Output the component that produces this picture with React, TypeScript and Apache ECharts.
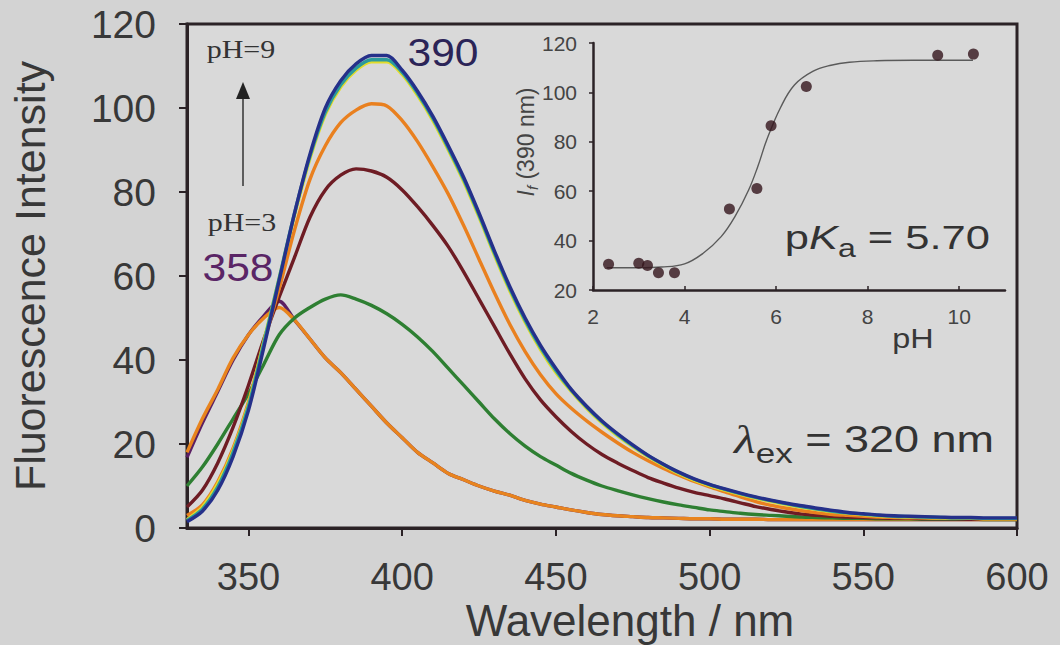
import React, { useEffect, useRef } from "react";
import * as echarts from "echarts";

const wavelengths = [
  330, 335, 340, 345, 350, 355, 360, 365, 370, 375, 380, 385, 390, 395, 400, 405, 410, 415, 420, 425,
  430, 435, 440, 445, 450, 455, 460, 465, 470, 475, 480, 485, 490, 495, 500, 505, 510, 515, 520, 525,
  530, 535, 540, 545, 550, 555, 560, 565, 570, 575, 580, 585, 590, 595, 600,
];

const purpleLow = [
  16.8, 25, 32.5, 40, 46, 50.5, 54, 49.5, 45, 40.5, 37, 33, 29, 25, 21.5, 18, 15.5, 13, 11.5, 10,
  8.8, 7.8, 6.6, 5.7, 5, 4.3, 3.7, 3.2, 2.9, 2.7, 2.5, 2.4, 2.3, 2.2, 2.2, 2.1, 2.1, 2.1, 2, 2,
  2, 2, 2, 2, 2, 2, 2, 2, 2, 2, 2, 2, 2, 2, 2,
];
const orangeLow = [
  18, 26, 33, 40.5, 46, 50, 52.5, 49.5, 45, 40.5, 37, 33, 29, 25, 21.5, 18, 15.5, 13, 11.5, 10,
  8.8, 7.8, 6.6, 5.7, 5, 4.3, 3.7, 3.2, 2.9, 2.7, 2.5, 2.4, 2.3, 2.2, 2.2, 2.1, 2.1, 2.1, 2, 2,
  2, 2, 2, 2, 2, 2, 2, 2, 2, 2, 2, 2, 2, 2, 2,
];
const green = [
  10, 14.5, 20, 26, 32, 39, 46, 50, 52.5, 54.5, 55.5, 54.5, 53, 51, 48.5, 45.5, 42, 38, 34, 30,
  26, 22.5, 19.5, 17, 15, 13, 11.4, 10, 8.9, 7.9, 7, 6.2, 5.5, 4.9, 4.3, 3.9, 3.5, 3.2, 3, 2.8,
  2.6, 2.5, 2.4, 2.3, 2.3, 2.2, 2.2, 2.2, 2.1, 2.1, 2.1, 2.1, 2, 2, 2,
];
const darkRed = [
  5, 9, 15.5, 24, 34, 45, 55, 64.5, 74, 80.5, 84, 85.5, 85, 83.5, 80.5, 76.5, 72, 67, 61, 54.5,
  48, 41.5, 35.5, 30.5, 26.5, 23, 20, 17.5, 15.5, 13.7, 12, 10.7, 9.5, 8.5, 7.7, 6.9, 6, 5.1, 4.4, 3.8,
  3.3, 3, 2.8, 2.6, 2.5, 2.4, 2.3, 2.3, 2.2, 2.2, 2.2, 2.1, 2.1, 2.1, 2.1,
];
const orangeHigh = [
  3, 5.5, 11, 19, 30, 44, 57, 71, 83, 91, 96.5, 99.5, 101, 100.5, 97, 92, 86, 79.5, 72, 64,
  56, 48.5, 42, 36.5, 32, 28.5, 25.5, 22.8, 20.3, 18, 16, 14.2, 12.6, 11.1, 9.8, 8.6, 7.4, 6.3, 5.4, 4.7,
  4.1, 3.6, 3.2, 3, 2.8, 2.6, 2.5, 2.4, 2.4, 2.3, 2.3, 2.3, 2.2, 2.2, 2.2,
];
const yellow = [
  2, 5, 10.5, 18.5, 29.5, 44.5, 59.5, 74.5, 88, 98.5, 105, 109, 111, 111, 108, 103, 97, 90, 82.5, 74,
  65, 56.5, 49, 42.5, 37, 32.5, 28.5, 25, 22, 19.4, 17, 14.9, 13, 11.4, 10.1, 9, 8, 7.1, 6.3, 5.6,
  4.9, 4.4, 3.9, 3.5, 3.2, 2.9, 2.7, 2.6, 2.5, 2.4, 2.3, 2.3, 2.2, 2.2, 2.2,
];
const teal = [
  1.8, 4.5, 9.8, 18, 29, 44, 59.5, 75, 88.5, 99, 105.5, 109.5, 111.5, 111.5, 108.5, 103.5, 97.5, 90.5, 83, 74.5,
  65.5, 57, 49.5, 43, 37.5, 32.8, 28.8, 25.3, 22.3, 19.6, 17.2, 15.1, 13.2, 11.6, 10.3, 9.2, 8.2, 7.3, 6.5, 5.8,
  5.1, 4.5, 4, 3.6, 3.3, 3, 2.8, 2.7, 2.6, 2.5, 2.4, 2.4, 2.3, 2.3, 2.3,
];
const blue = [
  1.5, 4, 9, 17, 28, 43, 59, 75, 89, 100, 106.5, 110.5, 112.5, 112.5, 109, 104, 98, 91, 83.5, 75,
  66, 57.5, 50, 43.5, 38, 33, 29, 25.5, 22.5, 19.8, 17.3, 15.2, 13.3, 11.7, 10.4, 9.3, 8.3, 7.4, 6.6, 5.9,
  5.3, 4.7, 4.2, 3.7, 3.4, 3.1, 2.9, 2.8, 2.7, 2.6, 2.5, 2.5, 2.4, 2.4, 2.4,
];

const spectraNames = ["pH 3 (a)", "pH 3 (b)", "pH 5", "pH 5.9", "pH 6.7", "pH 8 (a)", "pH 8 (b)", "pH 9"];
const spectraValues = [purpleLow, orangeLow, green, darkRed, orangeHigh, yellow, teal, blue];
const spectraColors = ["#5b1f63", "#e8841e", "#2e7f32", "#6e1c24", "#e9801f", "#e2dc2a", "#2b9a9c", "#25308a"];

const xTickLabels = [350, 400, 450, 500, 550, 600];

// inset: I_f (390 nm) versus pH
const insetPH = [2.34, 3.0, 3.19, 3.43, 3.78, 4.98, 5.58, 5.89, 6.66, 9.53, 10.31];
const insetIntensity = [30.4, 30.8, 29.9, 27.0, 27.0, 52.8, 61.1, 86.5, 102.4, 115, 115.5];
const fitPH = [2.3, 3.0, 3.5, 4.0, 4.4, 4.8, 5.1, 5.4, 5.6, 5.8, 6.1, 6.4, 6.8, 7.2, 7.6, 8.2, 9.0, 10.3];
const fitIntensity = [29, 29, 29.3, 30.6, 34.8, 41.6, 49.7, 60.5, 70, 81, 94, 103, 108.5, 111, 112.2, 112.8, 113, 113];

const SANS = "'Liberation Sans', Arial, sans-serif";
const SERIF = "'Liberation Serif', 'Times New Roman', serif";
const INK = "#2b2226";
const TXT = "#383838";

export default function App() {
  const ref = useRef<HTMLDivElement>(null);
  useEffect(() => {
    const chart = echarts.init(ref.current!, null, { renderer: "svg" });
    const pairs = (xs: number[], ys: number[]) => xs.map((x, i) => [x, ys[i]]);
    const spectra = spectraValues.map((vals, k) => ({
      name: spectraNames[k],
      type: "line",
      xAxisIndex: 0,
      yAxisIndex: 0,
      data: pairs(wavelengths, vals),
      showSymbol: false,
      smooth: 0.3,
      lineStyle: { width: 3.4, color: spectraColors[k] },
      itemStyle: { color: spectraColors[k] },
      z: 2 + k,
    }));
    chart.setOption({
      animation: false,
      backgroundColor: "#d3d3d3",
      textStyle: { fontFamily: SANS },
      grid: [
        { left: 187, top: 24, width: 830, height: 504, show: true, borderColor: INK, borderWidth: 3, backgroundColor: "#d9d9d9", containLabel: false, outerBoundsMode: "none" },
        { left: 593, top: 43, width: 412, height: 247, show: false, containLabel: false, outerBoundsMode: "none" },
      ],
      xAxis: [
        {
          type: "value", gridIndex: 0, min: 330, max: 600,
          axisLine: { show: true, lineStyle: { color: INK, width: 3 } },
          axisTick: { show: true, customValues: xTickLabels, length: 8, lineStyle: { color: INK, width: 2 } },
          axisLabel: { customValues: xTickLabels, fontSize: 38, color: TXT, margin: 30, fontFamily: SANS },
          splitLine: { show: false },
        },
        {
          type: "value", gridIndex: 1, min: 2, max: 11, interval: 2,
          axisLine: { show: true, lineStyle: { color: INK, width: 2.5 } },
          axisTick: { show: true, inside: true, length: 4, lineStyle: { color: INK, width: 1.5 } },
          axisLabel: { fontSize: 21, color: "#444", margin: 16, showMaxLabel: false, fontFamily: SANS },
          splitLine: { show: false },
        },
      ],
      yAxis: [
        {
          type: "value", gridIndex: 0, min: 0, max: 120, interval: 20,
          axisLine: { show: true, lineStyle: { color: INK, width: 3 } },
          axisTick: { show: true, length: 8, lineStyle: { color: INK, width: 2 } },
          axisLabel: { fontSize: 39, color: TXT, margin: 31, fontFamily: SANS },
          splitLine: { show: false },
          name: "Fluorescence Intensity", nameLocation: "middle", nameGap: 136,
          nameTextStyle: { fontSize: 43, color: TXT, fontFamily: SANS },
        },
        {
          type: "value", gridIndex: 1, min: 20, max: 120, interval: 20,
          axisLine: { show: true, lineStyle: { color: INK, width: 2.5 } },
          axisTick: { show: true, length: 4, lineStyle: { color: INK, width: 1.5 } },
          axisLabel: { fontSize: 21, color: "#444", margin: 16, fontFamily: SANS },
          splitLine: { show: false },
        },
      ],
      series: [
        ...spectra,
        {
          name: "fit", type: "line", xAxisIndex: 1, yAxisIndex: 1,
          data: pairs(fitPH, fitIntensity), showSymbol: false, smooth: 0.4,
          lineStyle: { width: 1.4, color: "#5a5a5a" }, z: 20,
        },
        {
          name: "If(390)", type: "scatter", xAxisIndex: 1, yAxisIndex: 1,
          data: pairs(insetPH, insetIntensity), symbolSize: 11,
          itemStyle: { color: "#33141c" }, z: 21,
        },
      ],
      graphic: [
        { type: "text", x: 630, y: 620, z: 50, style: { text: "Wavelength / nm", fontSize: 44, fontFamily: SANS, fill: TXT, textAlign: "center", textVerticalAlign: "middle" } },
        { type: "text", x: 241, y: 49, scaleX: 1.2, z: 50, style: { text: "pH=9", fontSize: 25, fontFamily: SERIF, fill: "#333", textAlign: "center", textVerticalAlign: "middle" } },
        { type: "line", z: 50, shape: { x1: 243, y1: 186, x2: 243, y2: 96 }, style: { stroke: "#333", lineWidth: 1.5 } },
        { type: "polygon", z: 50, shape: { points: [[236, 99], [250, 99], [243, 82]] }, style: { fill: "#222" } },
        { type: "text", x: 242, y: 222, scaleX: 1.2, z: 50, style: { text: "pH=3", fontSize: 25, fontFamily: SERIF, fill: "#333", textAlign: "center", textVerticalAlign: "middle" } },
        { type: "text", x: 238, y: 268, scaleX: 1.12, z: 50, style: { text: "358", fontSize: 38, fontFamily: SANS, fill: "#5a2566", textAlign: "center", textVerticalAlign: "middle" } },
        { type: "text", x: 443, y: 53, scaleX: 1.12, z: 50, style: { text: "390", fontSize: 38, fontFamily: SANS, fill: "#2b2457", textAlign: "center", textVerticalAlign: "middle" } },
        {
          type: "text", x: 994, y: 440, scaleX: 1.25, z: 50,
          style: {
            text: "{l|λ}{s|ex}{n| = 320 nm}", textAlign: "right", textVerticalAlign: "middle", fill: "#333",
            rich: {
              l: { fontSize: 40, fontFamily: SERIF, fontStyle: "italic", lineHeight: 54, fill: "#333" },
              s: { fontSize: 28, fontFamily: SANS, lineHeight: 28, padding: [26, 0, 0, 0], fill: "#333" },
              n: { fontSize: 36, fontFamily: SANS, lineHeight: 54, fill: "#333" },
            },
          },
        },
        {
          type: "text", x: 990, y: 237, scaleX: 1.28, z: 50,
          style: {
            text: "{n|p}{k|K}{s|a}{n| = 5.70}", textAlign: "right", textVerticalAlign: "middle", fill: "#333",
            rich: {
              n: { fontSize: 34, fontFamily: SANS, lineHeight: 48, fill: "#333" },
              k: { fontSize: 34, fontFamily: SANS, fontStyle: "italic", lineHeight: 48, fill: "#333" },
              s: { fontSize: 25, fontFamily: SANS, lineHeight: 25, padding: [23, 0, 0, 0], fill: "#333" },
            },
          },
        },
        {
          type: "text", x: 526, y: 142, rotation: Math.PI / 2, z: 50,
          style: {
            text: "{i|I}{f|f}{n| (390 nm)}", textAlign: "center", textVerticalAlign: "middle", fill: "#444",
            rich: {
              i: { fontSize: 23, fontFamily: SANS, fontStyle: "italic", lineHeight: 28, fill: "#444" },
              f: { fontSize: 15, fontFamily: SANS, fontStyle: "italic", lineHeight: 15, padding: [13, 0, 0, 0], fill: "#444" },
              n: { fontSize: 23, fontFamily: SANS, lineHeight: 28, fill: "#444" },
            },
          },
        },
        { type: "text", x: 913, y: 338, scaleX: 1.2, z: 50, style: { text: "pH", fontSize: 27, fontFamily: SANS, fill: TXT, textAlign: "center", textVerticalAlign: "middle" } },
      ],
    });
    return () => chart.dispose();
  }, []);
  return <div ref={ref} style={{ position: "fixed", left: 0, top: 0, width: 1060, height: 645 }} />;
}
